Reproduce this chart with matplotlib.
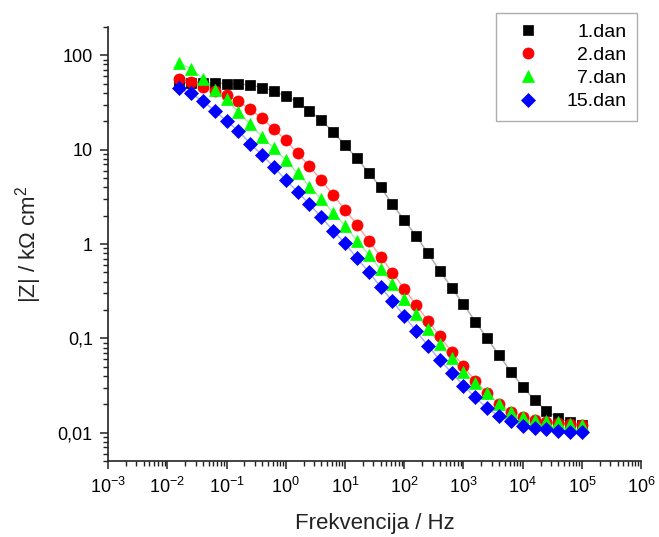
import numpy as np
import matplotlib
matplotlib.use('Agg')
import matplotlib.pyplot as plt
from matplotlib.ticker import LogLocator, FuncFormatter, NullFormatter

plt.rcParams['font.family'] = ['Liberation Sans', 'DejaVu Sans']
plt.rcParams['mathtext.fontset'] = 'custom'
plt.rcParams['mathtext.rm'] = 'Liberation Sans'

# log10 of frequency (Hz), 5 points per decade
log_freq = [-1.8, -1.6, -1.4, -1.2, -1.0, -0.8, -0.6, -0.4, -0.2, 0.0,
            0.2, 0.4, 0.6, 0.8, 1.0, 1.2, 1.4, 1.6, 1.8, 2.0,
            2.2, 2.4, 2.6, 2.8, 3.0, 3.2, 3.4, 3.6, 3.8, 4.0,
            4.2, 4.4, 4.6, 4.8, 5.0]

# |Z| in kOhm cm2
z_day1 = [51.5, 51.3, 51.0, 50.9, 50.1, 49.7, 48.5, 45.5, 41.9, 36.8,
          32.1, 25.8, 20.5, 15.4, 11.2, 8.07, 5.71, 4.01, 2.65, 1.79,
          1.22, 0.798, 0.521, 0.345, 0.230, 0.151, 0.100, 0.0668, 0.0443, 0.0309,
          0.0223, 0.0172, 0.0143, 0.0129, 0.0122]
z_day2 = [56.6, 52.1, 46.3, 41.9, 37.7, 32.6, 26.8, 21.4, 16.5, 12.6,
          9.12, 6.69, 4.75, 3.32, 2.31, 1.61, 1.09, 0.734, 0.499, 0.336,
          0.226, 0.154, 0.105, 0.0724, 0.0505, 0.0355, 0.0263, 0.0203, 0.0167, 0.0148,
          0.0137, 0.0131, 0.0128, 0.0124, 0.0122]
z_day7 = [83.0, 72.3, 56.6, 42.7, 34.0, 25.1, 18.6, 13.7, 10.3, 7.74,
          5.60, 4.06, 2.99, 2.15, 1.57, 1.09, 0.774, 0.541, 0.377, 0.264,
          0.182, 0.126, 0.0875, 0.0617, 0.0445, 0.0341, 0.0263, 0.0203, 0.0168, 0.0149,
          0.0137, 0.0132, 0.0129, 0.0125, 0.0122]
z_day15 = [44.5, 39.4, 32.8, 25.8, 20.2, 15.8, 11.6, 8.75, 6.58, 4.75,
           3.57, 2.65, 1.92, 1.39, 1.02, 0.711, 0.506, 0.353, 0.249, 0.173,
           0.120, 0.0839, 0.0592, 0.0435, 0.0317, 0.0237, 0.0182, 0.0151, 0.0132, 0.0119,
           0.0112, 0.0109, 0.0105, 0.0103, 0.0102]

labels = ['1.dan', '2.dan', '7.dan', '15.dan']

freq = 10.0 ** np.array(log_freq)

fig = plt.figure(figsize=(6.59, 5.37), dpi=100)
ax = fig.add_axes([0.164, 0.141, 0.809, 0.809])

styles = [
    dict(marker='s', color='#000000', line='#a8a8a8', ms=7),
    dict(marker='o', color='#ff0000', line='#ffa0a0', ms=8),
    dict(marker='^', color='#00ff00', line='#a0f0a0', ms=8.5),
    dict(marker='D', color='#0000ff', line='#a8a8ff', ms=7),
]

handles = []
for z, st, lab in zip([z_day1, z_day2, z_day7, z_day15], styles, labels):
    ax.plot(freq, z, '-', color=st['line'], lw=1.0, zorder=2)
    h, = ax.plot(freq, z, linestyle='none', marker=st['marker'],
                 ms=st['ms'], mfc=st['color'], mec=st['color'],
                 mew=0.5, zorder=3, label=lab)
    handles.append(h)

ax.set_xscale('log')
ax.set_yscale('log')
ax.set_xlim(1e-3, 1e6)
ax.set_ylim(0.005, 200)

ax.xaxis.set_major_locator(LogLocator(base=10, numticks=20))
ax.xaxis.set_minor_locator(LogLocator(base=10, subs=np.arange(2, 10), numticks=20))
ax.yaxis.set_major_locator(LogLocator(base=10, numticks=20))
ax.yaxis.set_minor_locator(LogLocator(base=10, subs=np.arange(2, 10), numticks=20))


def comma_fmt(v, pos):
    s = ('%g' % v).replace('.', ',')
    return s


ax.yaxis.set_major_formatter(FuncFormatter(comma_fmt))
ax.yaxis.set_minor_formatter(NullFormatter())
ax.xaxis.set_minor_formatter(NullFormatter())

ax.spines['top'].set_visible(False)
ax.spines['right'].set_visible(False)
for sp in ['left', 'bottom']:
    ax.spines[sp].set_linewidth(1.2)
    ax.spines[sp].set_color('#222222')

ax.tick_params(which='major', direction='out', length=6, width=1.1,
               labelsize=13, color='#222222', pad=5)
ax.tick_params(which='minor', direction='out', length=3.5, width=1.0,
               color='#222222')

ax.set_xlabel('Frekvencija / Hz', fontsize=16, color='#222222', labelpad=12)
ax.set_ylabel('|Z| / k\u03a9 cm$^2$', fontsize=16, color='#222222', labelpad=10)

leg = ax.legend(handles=handles, loc='upper right',
                bbox_to_anchor=(0.967, 0.976), bbox_transform=fig.transFigure,
                fontsize=14, frameon=True, fancybox=False, numpoints=1,
                handlelength=2.2, handletextpad=0.9, labelspacing=0.28,
                borderpad=0.55, borderaxespad=0)
leg.get_frame().set_edgecolor('#999999')
leg.get_frame().set_linewidth(1.0)

# right-align the legend labels like the original
fig.canvas.draw()
widths = [t.get_window_extent().width for t in leg.get_texts()]
for t, w in zip(leg.get_texts(), widths):
    t.set_position((max(widths) - w, 0))

fig.savefig('out.png', dpi=100)
